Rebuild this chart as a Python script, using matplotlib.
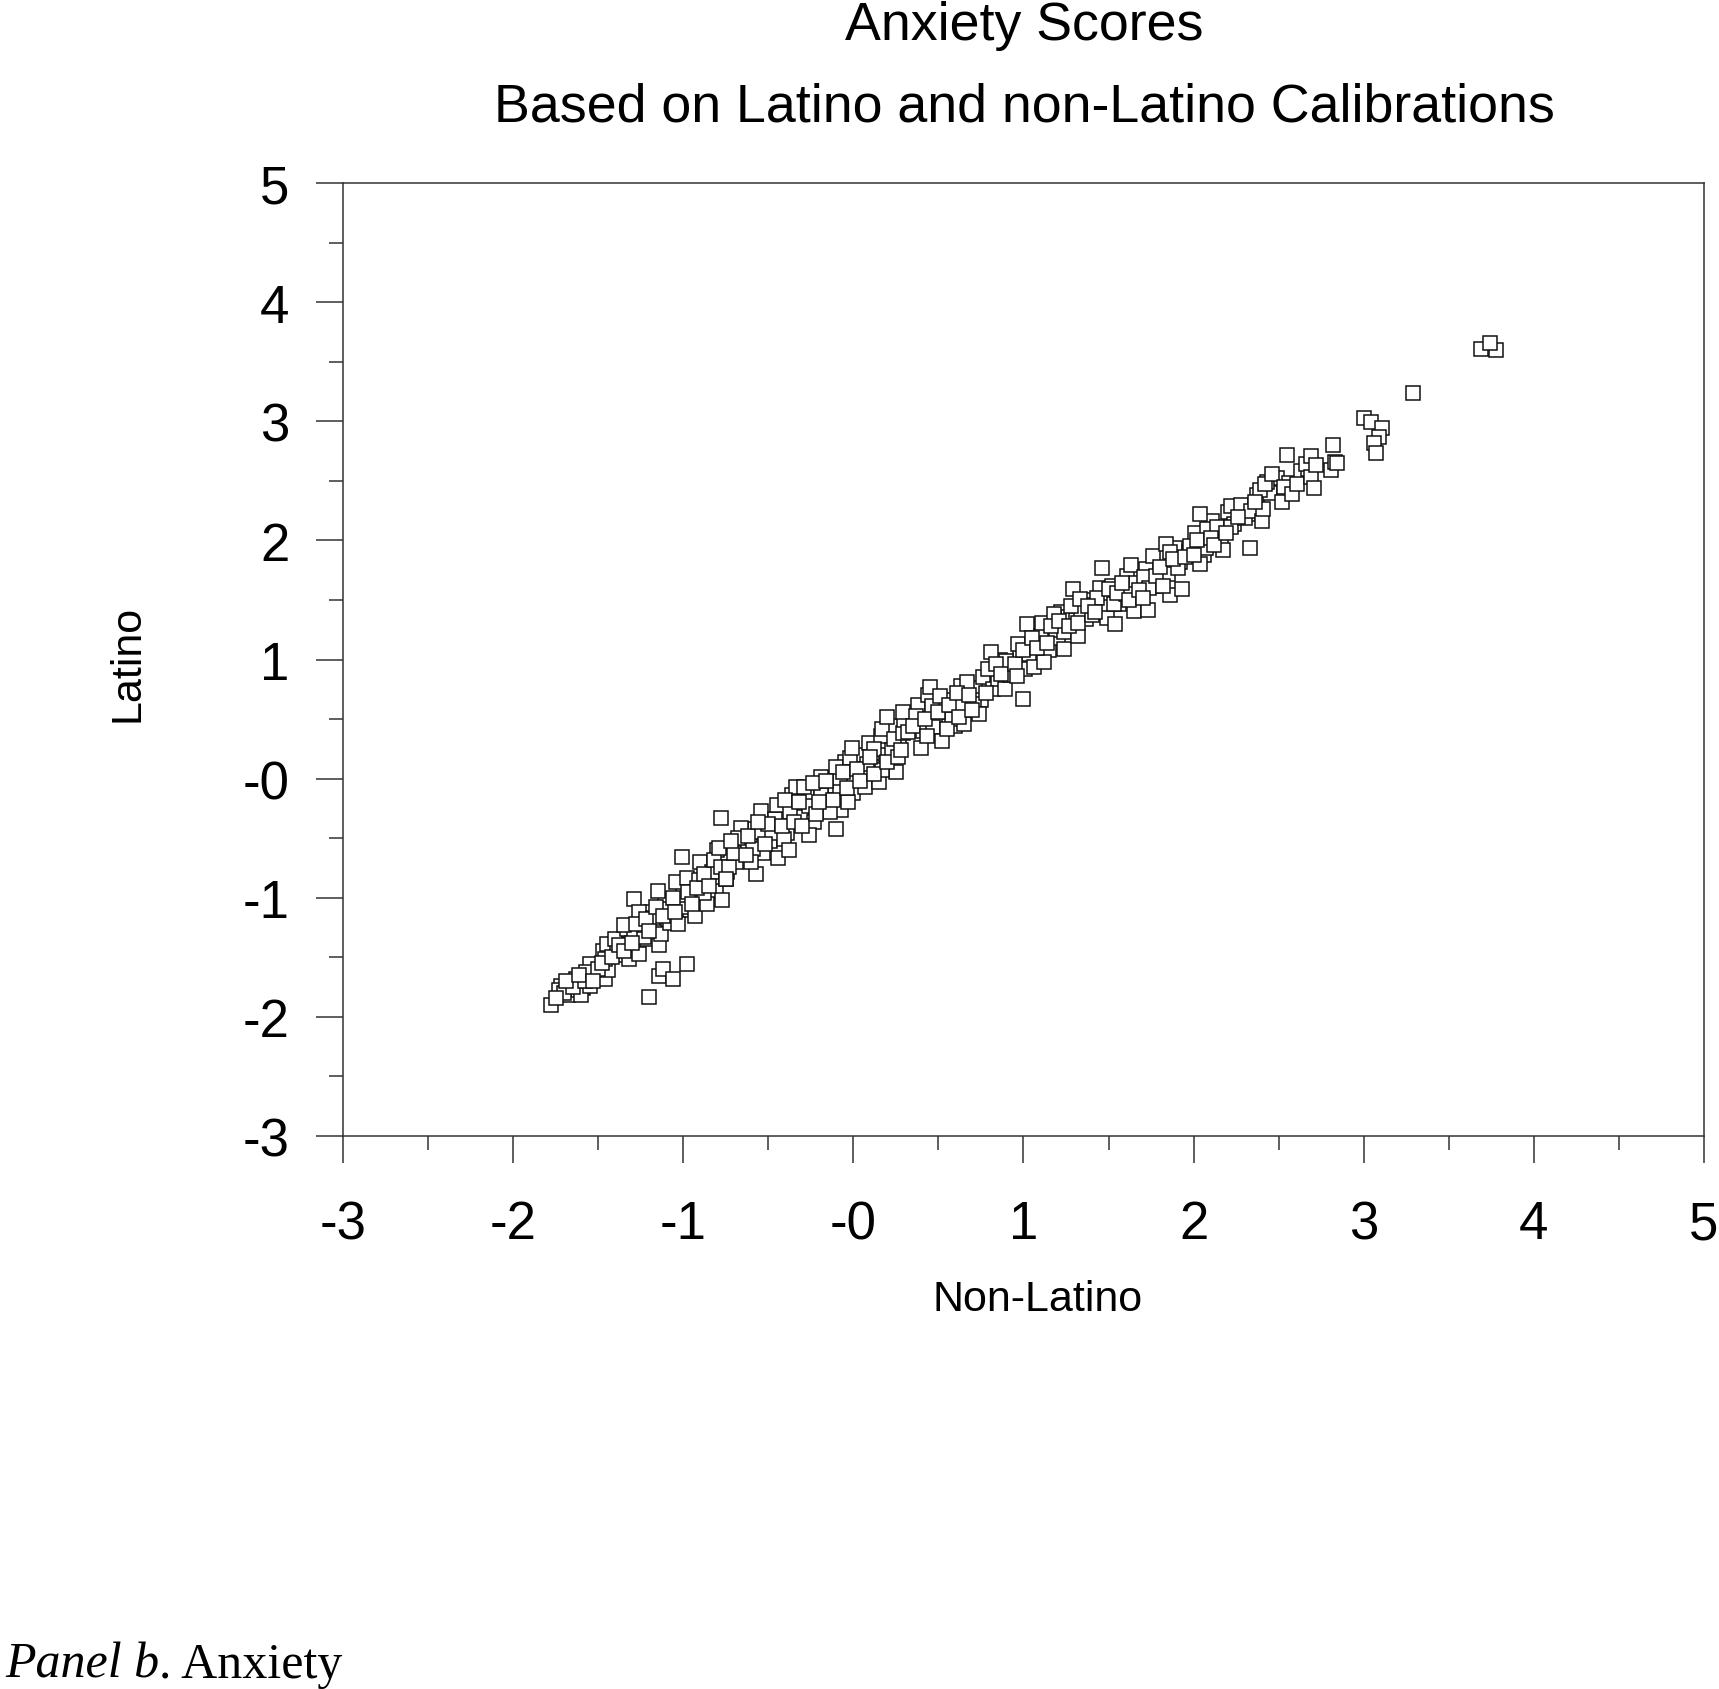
import numpy as np
import matplotlib
matplotlib.use('Agg')
import matplotlib.pyplot as plt
from matplotlib.ticker import MultipleLocator

# scores (non-Latino calibration vs Latino calibration)
non_latino = [
    # inner part of the band (drawn first, underneath)
    -1.72, -1.66, -1.59, -1.56, -1.49, -1.47, -1.41, -1.37, -1.34, -1.31, -1.25, -1.21,
    -1.19, -1.11, -1.09, -1.02, -0.99, -0.96, -0.90, -0.87, -0.84, -0.81, -0.76, -0.74,
    -0.69, -0.67, -0.61, -0.58, -0.53, -0.49, -0.43, -0.39, -0.36, -0.31, -0.27, -0.23,
    -0.18, -0.15, -0.11, -0.07, -0.05, 0.00, 0.03, 0.06, 0.09, 0.13, 0.16, 0.19,
    0.22, 0.25, 0.27, 0.33, 0.38, 0.41, 0.44, 0.48, 0.53, 0.57, 0.60, 0.63,
    0.66, 0.72, 0.75, 0.80, 0.86, 0.88, 0.93, 0.98, 1.01, 1.04, 1.07, 1.09,
    1.13, 1.15, 1.20, 1.22, 1.26, 1.30, 1.36, 1.37, 1.41, 1.45, 1.48, 1.52,
    1.57, 1.61, 1.66, 1.69, 1.72, 1.77, 1.81, 1.85, 1.89, 1.92, 1.97, 2.01,
    2.06, 2.11, 2.15, 2.20, 2.24, 2.29, 2.32, 2.37, 2.45, 2.49, 2.56, 2.63,
    2.67,
    # low end of the band
    -1.78, -1.73, -1.68, -1.67, -1.63, -1.62, -1.60, -1.55, -1.55, -1.52, -1.46, -1.44,
    -1.46, -1.45, -1.39, -1.40, -1.32, -1.26, -1.33, -1.29, -1.23, -1.23, -1.35, -1.29,
    -1.26, -1.18, -1.14, -1.13, -1.15, -1.10, -1.08, -1.03, -1.01, -1.00, -1.04, -0.98,
    -0.93, -0.86, -0.91, -0.90, -1.01, -0.83, -0.77, -0.75, -0.88, -0.80,
    -1.70, -1.65, -1.58, -1.57, -1.50, -1.48, -1.42, -1.38, -1.35, -1.30, -1.28, -1.22,
    -1.20, -1.16, -1.12, -1.06, -1.05, -0.97, -0.95, -0.92, -0.88, -0.85, -0.82, -0.78,
    -1.75, -1.69, -1.61, -1.53,
    # stragglers below the band
    -1.14, -1.12, -1.06, -0.98, -1.20,
    # around zero
    -0.78, -0.79, -0.73, -0.75, -0.66, -0.65, -0.59, -0.57, -0.54, -0.55, -0.48, -0.46,
    -0.45, -0.44, -0.41, -0.37, -0.34, -0.29, -0.26, -0.26, -0.19, -0.19, -0.14, -0.10,
    -0.08, -0.08, -0.10, -0.03, -0.02, -0.01, 0.07, 0.08, 0.12, 0.15, 0.17, 0.17,
    0.20, 0.23, 0.24, 0.29, 0.30,
    -0.70, -0.68, -0.62, -0.60, -0.52, -0.50, -0.42, -0.40, -0.38, -0.35, -0.32, -0.30,
    -0.24, -0.22, -0.16, -0.12, -0.06, -0.04, 0.02, 0.04, 0.10, 0.12, 0.20, 0.26,
    -0.72, -0.63, -0.56, -0.20,
    # middle
    0.32, 0.29, 0.28, 0.37, 0.40, 0.45, 0.46, 0.47, 0.52, 0.51, 0.58, 0.64,
    0.65, 0.67, 0.71, 0.74, 0.76, 0.81, 0.82, 0.85, 0.89, 0.90, 0.92, 1.00,
    0.97, 1.02, 1.03, 1.06, 1.10, 1.11, 1.12, 1.18, 1.19, 1.24, 1.24, 1.29,
    1.31, 1.32, 1.34,
    0.35, 0.42, 0.43, 0.50, 0.55, 0.56, 0.61, 0.62, 0.68, 0.70, 0.78, 0.79,
    0.84, 0.87, 0.95, 0.96, 1.00, 1.05, 1.08, 1.14, 1.16, 1.21, 1.27, 1.28,
    # upper part
    1.33, 1.32, 1.40, 1.43, 1.49, 1.54, 1.56,
    1.46, 1.50, 1.53, 1.60, 1.63, 1.65, 1.71, 1.73, 1.74, 1.76, 1.84, 1.86,
    1.86, 1.91, 1.93, 1.98, 2.04, 2.07, 2.08, 2.14, 2.16, 2.17, 2.04, 2.22,
    2.22, 2.28, 2.30, 2.33, 2.34, 2.40, 2.41, 2.39, 2.43,
    1.38, 1.42, 1.55, 1.58, 1.62, 1.68, 1.70, 1.78, 1.80, 1.82, 1.88, 1.95,
    2.00, 2.02, 2.10, 2.12, 2.19, 2.26, 2.36,
    # top end
    2.42, 2.46, 2.52, 2.53, 2.55, 2.58, 2.61, 2.66, 2.69, 2.69, 2.71, 2.72,
    2.81, 2.82, 2.83, 2.84, 3.00, 3.04, 3.11, 3.09, 3.06, 3.07, 3.29, 3.69,
    3.78, 3.74,
]

latino = [
    -1.74, -1.80, -1.76, -1.68, -1.64, -1.45, -1.42, -1.48, -1.34, -1.28, -1.26, -1.35,
    -1.12, -1.03, -1.18, -1.04, -0.90, -1.10, -0.98, -0.86, -0.72, -0.94, -0.66, -0.78,
    -0.70, -0.58, -0.54, -0.42, -0.62, -0.52, -0.30, -0.46, -0.14, -0.32, -0.12, -0.36,
    -0.08, -0.16, -0.06, -0.26, 0.14, -0.12, 0.20, 0.02, 0.30, 0.10, 0.36, 0.20,
    0.44, 0.06, 0.30, 0.46, 0.62, 0.40, 0.70, 0.48, 0.66, 0.56, 0.44, 0.78,
    0.64, 0.76, 0.66, 0.82, 1.00, 0.80, 0.92, 1.02, 0.92, 1.12, 1.26, 1.04,
    1.22, 1.08, 1.18, 1.40, 1.36, 1.24, 1.50, 1.34, 1.46, 1.60, 1.44, 1.62,
    1.52, 1.70, 1.64, 1.46, 1.76, 1.62, 1.86, 1.72, 1.94, 1.82, 1.90, 2.06,
    1.88, 2.16, 2.06, 2.24, 2.14, 2.26, 2.22, 2.38, 2.40, 2.52, 2.48, 2.58,
    2.60,
    -1.90, -1.77, -1.82, -1.72, -1.68, -1.77, -1.82, -1.74, -1.56, -1.65, -1.68, -1.61,
    -1.51, -1.39, -1.44, -1.35, -1.51, -1.47, -1.26, -1.31, -1.33, -1.23, -1.23, -1.01,
    -1.12, -1.17, -1.40, -1.30, -0.94, -1.09, -1.21, -1.22, -1.08, -0.98, -0.87, -0.83,
    -1.15, -1.05, -0.85, -0.70, -0.66, -0.78, -1.02, -0.84, -0.96, -0.60,
    -1.80, -1.75, -1.70, -1.62, -1.60, -1.55, -1.50, -1.40, -1.45, -1.38, -1.22, -1.18,
    -1.28, -1.08, -1.15, -1.00, -1.12, -0.95, -1.05, -0.92, -0.80, -0.90, -0.68, -0.74,
    -1.84, -1.70, -1.65, -1.70,
    -1.66, -1.60, -1.68, -1.56, -1.83,
    -0.33, -0.58, -0.74, -0.84, -0.41, -0.56, -0.59, -0.80, -0.27, -0.45, -0.46, -0.34,
    -0.22, -0.67, -0.51, -0.28, -0.07, -0.07, -0.23, -0.47, -0.14, 0.01, -0.28, -0.42,
    -0.01, -0.11, 0.10, -0.20, 0.17, 0.26, -0.07, 0.12, 0.25, -0.03, 0.07, 0.42,
    0.52, 0.24, 0.33, 0.38, 0.49,
    -0.62, -0.50, -0.48, -0.70, -0.55, -0.38, -0.40, -0.18, -0.60, -0.36, -0.20, -0.40,
    -0.04, -0.30, -0.02, -0.18, 0.06, -0.08, 0.08, -0.02, 0.18, 0.04, 0.14, 0.18,
    -0.52, -0.64, -0.36, -0.20,
    0.39, 0.56, 0.24, 0.53, 0.26, 0.77, 0.61, 0.43, 0.32, 0.69, 0.50, 0.61,
    0.46, 0.81, 0.63, 0.54, 0.85, 1.06, 0.75, 0.84, 0.75, 0.99, 0.87, 0.67,
    1.13, 1.30, 1.05, 0.94, 1.20, 1.31, 0.98, 1.38, 1.25, 1.23, 1.09, 1.59,
    1.33, 1.20, 1.42,
    0.44, 0.50, 0.36, 0.56, 0.42, 0.62, 0.72, 0.52, 0.70, 0.58, 0.72, 0.92,
    0.96, 0.88, 0.96, 0.86, 1.08, 1.18, 1.10, 1.14, 1.28, 1.32, 1.28, 1.45,
    1.51, 1.31, 1.37, 1.52, 1.35, 1.30, 1.47,
    1.77, 1.59, 1.47, 1.55, 1.79, 1.41, 1.69, 1.42, 1.60, 1.87, 1.97, 1.90,
    1.54, 1.77, 1.59, 1.95, 1.80, 1.94, 2.10, 2.11, 1.99, 1.92, 2.22, 2.29,
    2.11, 2.30, 2.19, 1.94, 2.25, 2.16, 2.26, 2.42, 2.49,
    1.45, 1.40, 1.56, 1.64, 1.50, 1.58, 1.52, 1.70, 1.78, 1.62, 1.84, 1.86,
    1.88, 2.00, 2.02, 1.96, 2.06, 2.20, 2.32,
    2.47, 2.56, 2.32, 2.45, 2.72, 2.39, 2.47, 2.64, 2.71, 2.53, 2.44, 2.63,
    2.59, 2.80, 2.66, 2.65, 3.03, 2.99, 2.94, 2.87, 2.82, 2.73, 3.24, 3.61,
    3.60, 3.66,
]

ticks = [-3, -2, -1, 0, 1, 2, 3, 4, 5]
tick_labels = ['-3', '-2', '-1', '-0', '1', '2', '3', '4', '5']

title_lines = ['Anxiety Scores', 'Based on Latino and non-Latino Calibrations']


def main():
    plt.rcParams['font.family'] = ['Liberation Sans', 'DejaVu Sans']
    fig = plt.figure(figsize=(17.19, 16.90), dpi=100)
    ax = fig.add_axes([0.1995, 0.3272, 0.7918, 0.5639])

    ax.plot(non_latino, latino, 's', ms=9.6, mfc='white', mec='#111111', mew=1.1,
            linestyle='none')

    ax.set_xlim(-3, 5)
    ax.set_ylim(-3, 5)
    ax.set_xticks(ticks)
    ax.set_xticklabels(tick_labels)
    ax.set_yticks(ticks)
    ax.set_yticklabels(tick_labels)
    ax.xaxis.set_minor_locator(MultipleLocator(0.5))
    ax.yaxis.set_minor_locator(MultipleLocator(0.5))

    edge = '#333333'
    for sp in ax.spines.values():
        sp.set_color(edge)
        sp.set_linewidth(1.1)
    ax.tick_params(which='major', direction='out', length=19.5, width=1.1,
                   color=edge, labelsize=38)
    ax.tick_params(which='minor', direction='out', length=10, width=1.1, color=edge)
    ax.tick_params(axis='x', which='major', pad=26)
    ax.tick_params(axis='y', which='major', pad=19)

    ax.set_xlabel('Non-Latino', fontsize=31, va='center')
    ax.xaxis.set_label_coords(0.51, -0.171)
    ax.set_ylabel('Latino', fontsize=31, va='center')
    ax.yaxis.set_label_coords(-0.158, 0.497)

    fig.text(0.5957, 1 - 40 / 1690, title_lines[0], fontsize=38.7,
             ha='center', va='baseline')
    fig.text(0.5957, 1 - 121 / 1690, title_lines[1], fontsize=38.7,
             ha='center', va='baseline')

    # caption under the figure: italic part then regular part
    t1 = fig.text(5 / 1719, 12 / 1690, 'Panel b', fontsize=36, style='italic',
                  family=['Liberation Serif'], ha='left', va='baseline')
    fig.canvas.draw()
    bb = t1.get_window_extent()
    fig.text(bb.x1 / fig.bbox.width, 12 / 1690, '. Anxiety', fontsize=36,
             family=['Liberation Serif'], ha='left', va='baseline')

    fig.savefig('out.png', dpi=100, facecolor='white')


if __name__ == '__main__':
    main()
